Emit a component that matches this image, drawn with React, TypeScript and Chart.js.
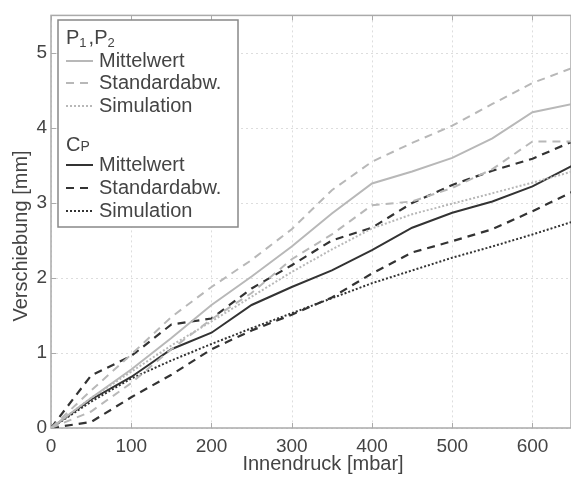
import React, { useEffect, useRef } from "react";
import { Chart, registerables } from "chart.js";

Chart.register(...registerables);

const pressure = [0, 50, 100, 150, 200, 250, 300, 350, 400, 450, 500, 550, 600, 650];
const p12Mean = [0, 0.4, 0.78, 1.2, 1.64, 2.02, 2.42, 2.86, 3.26, 3.42, 3.6, 3.86, 4.21, 4.32];
const p12StdUpper = [0, 0.5, 0.98, 1.48, 1.88, 2.24, 2.65, 3.17, 3.55, 3.8, 4.03, 4.32, 4.6, 4.8];
const p12StdLower = [0, 0.22, 0.6, 1.05, 1.45, 1.8, 2.25, 2.58, 2.97, 3.02, 3.2, 3.45, 3.82, 3.82];
const p12Sim = [0, 0.4, 0.75, 1.1, 1.42, 1.75, 2.08, 2.38, 2.66, 2.85, 2.99, 3.13, 3.27, 3.42];
const cpMean = [0, 0.38, 0.68, 1.05, 1.27, 1.64, 1.88, 2.1, 2.37, 2.67, 2.87, 3.02, 3.22, 3.5];
const cpStdUpper = [0, 0.7, 0.96, 1.38, 1.46, 1.86, 2.17, 2.5, 2.67, 3.0, 3.24, 3.43, 3.59, 3.82];
const cpStdLower = [0, 0.08, 0.41, 0.71, 1.05, 1.3, 1.51, 1.74, 2.06, 2.34, 2.49, 2.65, 2.89, 3.15];
const cpSim = [0, 0.35, 0.66, 0.9, 1.12, 1.33, 1.53, 1.73, 1.93, 2.1, 2.27, 2.42, 2.58, 2.75];

const xTicks = [0, 100, 200, 300, 400, 500, 600];
const yTicks = [0, 1, 2, 3, 4, 5];
const xTitle = "Innendruck [mbar]";
const yTitle = "Verschiebung [mm]";

const LIGHT = "#b8b8b8";
const DARK = "#333333";
const FONT = "'Liberation Sans', Arial, sans-serif";
const TEXT = "#444444";

const legendGroups = [
  { title: ["P", "1", ",P", "2"], color: LIGHT },
  { title: ["C", "P"], color: DARK },
];
const legendEntries = ["Mittelwert", "Standardabw.", "Simulation"];

const toXY = (ys: number[]) => ys.map((y, i) => ({ x: pressure[i], y }));

export default function App() {
  const ref = useRef<HTMLCanvasElement | null>(null);
  useEffect(() => {
    if (!ref.current) return;
    const mk = (data: number[], color: string, dash: number[], width: number) => ({
      data: toXY(data),
      borderColor: color,
      borderDash: dash,
      borderWidth: width,
      pointRadius: 0,
      tension: 0,
      fill: false,
    });
    const dashL = [8, 6];
    const dashD = [8, 6];
    const dot = [2, 2];
    const frame = {
      id: "frame",
      beforeDatasetsDraw(chart: any) {
        const { ctx, chartArea: a } = chart;
        ctx.save();
        ctx.strokeStyle = "#dddddd";
        ctx.lineWidth = 1;
        ctx.setLineDash([2, 3]);
        const xs = chart.scales.x, ys = chart.scales.y;
        xTicks.forEach((v) => {
          const px = Math.round(xs.getPixelForValue(v)) + 0.5;
          ctx.beginPath(); ctx.moveTo(px, a.top); ctx.lineTo(px, a.bottom); ctx.stroke();
        });
        yTicks.forEach((v) => {
          const py = Math.round(ys.getPixelForValue(v)) + 0.5;
          ctx.beginPath(); ctx.moveTo(a.left, py); ctx.lineTo(a.right, py); ctx.stroke();
        });
        ctx.setLineDash([]);
        ctx.strokeStyle = "#aaaaaa";
        ctx.lineWidth = 1.5;
        ctx.strokeRect(a.left, a.top, a.right - a.left, a.bottom - a.top);
        ctx.lineWidth = 1;
        xTicks.forEach((v) => {
          const px = Math.round(xs.getPixelForValue(v)) + 0.5;
          ctx.beginPath(); ctx.moveTo(px, a.top); ctx.lineTo(px, a.top + 5); ctx.stroke();
          ctx.beginPath(); ctx.moveTo(px, a.bottom); ctx.lineTo(px, a.bottom - 5); ctx.stroke();
        });
        yTicks.forEach((v) => {
          const py = Math.round(ys.getPixelForValue(v)) + 0.5;
          ctx.beginPath(); ctx.moveTo(a.left, py); ctx.lineTo(a.left + 5, py); ctx.stroke();
        });
        // axis titles
        ctx.fillStyle = TEXT;
        ctx.font = `20px ${FONT}`;
        ctx.textAlign = "center";
        ctx.textBaseline = "middle";
        ctx.fillText(xTitle, 323, 464);
        ctx.save();
        ctx.translate(21, 236);
        ctx.rotate(-Math.PI / 2);
        ctx.fillText(yTitle, 0, 0);
        ctx.restore();
        ctx.restore();
      },
      afterDraw(chart: any) {
        const { ctx } = chart;
        ctx.save();
        const bx = 58, by = 20, bw = 180, bh = 207;
        ctx.fillStyle = "#ffffff";
        ctx.fillRect(bx, by, bw, bh);
        ctx.strokeStyle = "#888888";
        ctx.lineWidth = 1.5;
        ctx.strokeRect(bx, by, bw, bh);
        const groupTop = [38, 145];
        const entryY = [[61, 83, 106], [165, 188, 211]];
        legendGroups.forEach((g, gi) => {
          ctx.textBaseline = "middle";
          ctx.textAlign = "left";
          ctx.fillStyle = TEXT;
          let x = 66;
          g.title.forEach((part, pi) => {
            const sub = pi % 2 === 1;
            const small = gi === 1 && sub;
            ctx.font = sub ? (small ? `14px ${FONT}` : `13px ${FONT}`) : `20px ${FONT}`;
            const y = groupTop[gi] + (sub ? (small ? 2 : 5) : 0);
            ctx.fillText(part, x, y);
            x += ctx.measureText(part).width + (sub && !small ? 2 : 0);
          });
          legendEntries.forEach((label, ei) => {
            const y = entryY[gi][ei];
            ctx.strokeStyle = g.color;
            ctx.lineWidth = 2;
            ctx.setLineDash(ei === 0 ? [] : ei === 1 ? (gi === 0 ? dashL : dashD) : dot);
            ctx.beginPath(); ctx.moveTo(66, y); ctx.lineTo(93, y); ctx.stroke();
            ctx.setLineDash([]);
            ctx.font = `20px ${FONT}`;
            ctx.fillStyle = TEXT;
            ctx.fillText(label, 99, y);
          });
        });
        ctx.restore();
      },
    };
    const chart = new Chart(ref.current, {
      type: "line",
      data: {
        datasets: [
          mk(p12Mean, LIGHT, [], 2),
          mk(p12StdUpper, LIGHT, dashL, 2),
          mk(p12StdLower, LIGHT, dashL, 2),
          mk(p12Sim, LIGHT, dot, 2),
          mk(cpMean, DARK, [], 2),
          mk(cpStdUpper, DARK, dashD, 2.2),
          mk(cpStdLower, DARK, dashD, 2.2),
          mk(cpSim, DARK, dot, 2),
        ] as any,
      },
      options: {
        animation: false,
        responsive: false,
        layout: { padding: { top: 12, right: 0, left: 0, bottom: 0 } },
        plugins: { legend: { display: false }, tooltip: { enabled: false } },
        scales: {
          x: {
            type: "linear",
            min: 0,
            max: 648,
            afterFit(s: any) { s.height = 49; },
            afterBuildTicks(s: any) { s.ticks = xTicks.map((v) => ({ value: v })); },
            grid: { display: false, drawTicks: false },
            border: { display: false },
            ticks: { color: TEXT, font: { family: FONT, size: 19 }, padding: 7, maxRotation: 0 },
            title: { display: false },
          },
          y: {
            type: "linear",
            min: 0,
            max: 5.5,
            afterFit(s: any) { s.width = 51; },
            afterBuildTicks(s: any) { s.ticks = yTicks.map((v) => ({ value: v })); },
            grid: { display: false, drawTicks: false },
            border: { display: false },
            ticks: { color: TEXT, font: { family: FONT, size: 19 }, padding: 4 },
            title: { display: false },
          },
        },
      } as any,
      plugins: [frame],
    });
    return () => chart.destroy();
  }, []);
  return (
    <div style={{ position: "absolute", left: 0, top: 0, width: 571, height: 477, background: "#fff" }}>
      <canvas ref={ref} width={571} height={477} style={{ width: 571, height: 477 }} />
    </div>
  );
}
